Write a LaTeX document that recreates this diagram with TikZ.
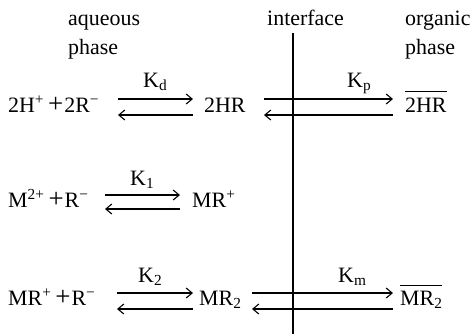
\documentclass[tikz,border=0pt]{standalone}
\usepackage{fontspec}
\setmainfont{Liberation Serif}
\usetikzlibrary{arrows.meta}
\newcommand{\barred}[1]{\vbox{\hrule height 1.1bp\kern 5bp\hbox{#1}}}
\newcommand{\bigplus}{\kern4bp{\fontsize{27}{28}\selectfont+}\kern1bp}
\tikzset{
  txt/.style={anchor=base west, inner sep=0pt, font=\fontsize{22}{26}\selectfont},
  fwd/.style={-{Straight Barb[length=6bp, width=10bp]}, line width=1.1bp},
  bwd/.style={{Straight Barb[length=6bp, width=10bp]}-, line width=1.1bp},
}

\begin{document}
\begin{tikzpicture}[x=1bp, y=-1bp]
  \useasboundingbox (0,0) rectangle (472,334);
  % headings
  \node[txt] (aq1) at (68,25) {aqueous};
  \node[txt] (aq2) at (68,54) {phase};
  \node[txt] (ifc) at (267,25) {interface};
  \node[txt] (or1) at (405,25) {organic};
  \node[txt] (or2) at (405,54) {phase};
  % the interface
  \coordinate (itop) at (293,33);
  \coordinate (ibot) at (293,334);
  \draw[line width=1.8bp] (itop) -- (ibot);
  % first row
  \node[txt] (hr0) at (8,112) {2H\textsuperscript{+}\bigplus2R\textsuperscript{−}};
  \node[txt] (hr1) at (204,112) {2HR};
  \node[txt] (hr2) at (405,112) {\barred{2HR}};
  \node[txt] (kd) at (143,87) {K\textsubscript{d}};
  \node[txt] (kp) at (347,87) {K\textsubscript{p}};
  \draw[fwd] ([xshift=-86bp, yshift=13bp]hr1.base west) -- ([xshift=-11bp, yshift=13bp]hr1.base west);
  \draw[bwd] ([xshift=-86bp, yshift=-3bp]hr1.base west) -- ([xshift=-11bp, yshift=-3bp]hr1.base west);
  \draw[fwd] ([xshift=-141bp, yshift=13bp]hr2.base west) -- ([xshift=-12bp, yshift=13bp]hr2.base west);
  \draw[bwd] ([xshift=-141bp, yshift=-3bp]hr2.base west) -- ([xshift=-12bp, yshift=-3bp]hr2.base west);
  % second row
  \node[txt] (mr0) at (8,207) {M\textsuperscript{2+}\bigplus R\textsuperscript{−}};
  \node[txt] (mr1) at (192,207) {MR\textsuperscript{+}};
  \node[txt] (k1) at (130,185) {K\textsubscript{1}};
  \draw[fwd] ([xshift=-87bp, yshift=12bp]mr1.base west) -- ([xshift=-12bp, yshift=12bp]mr1.base west);
  \draw[bwd] ([xshift=-87bp, yshift=-2bp]mr1.base west) -- ([xshift=-12bp, yshift=-2bp]mr1.base west);
  % third row
  \node[txt] (ms0) at (8,305) {MR\textsuperscript{+}\bigplus R\textsuperscript{−}};
  \node[txt] (ms1) at (199,305) {MR\textsubscript{2}};
  \node[txt] (ms2) at (400,305) {\barred{MR\textsubscript{2}}};
  \node[txt] (k2) at (138,282) {K\textsubscript{2}};
  \node[txt] (km) at (338,282) {K\textsubscript{m}};
  \draw[fwd] ([xshift=-82bp, yshift=12bp]ms1.base west) -- ([xshift=-6bp, yshift=12bp]ms1.base west);
  \draw[bwd] ([xshift=-82bp, yshift=-4bp]ms1.base west) -- ([xshift=-6bp, yshift=-4bp]ms1.base west);
  \draw[fwd] ([xshift=-148bp, yshift=12bp]ms2.base west) -- ([xshift=-7bp, yshift=12bp]ms2.base west);
  \draw[bwd] ([xshift=-148bp, yshift=-4bp]ms2.base west) -- ([xshift=-7bp, yshift=-4bp]ms2.base west);
\end{tikzpicture}
\end{document}
